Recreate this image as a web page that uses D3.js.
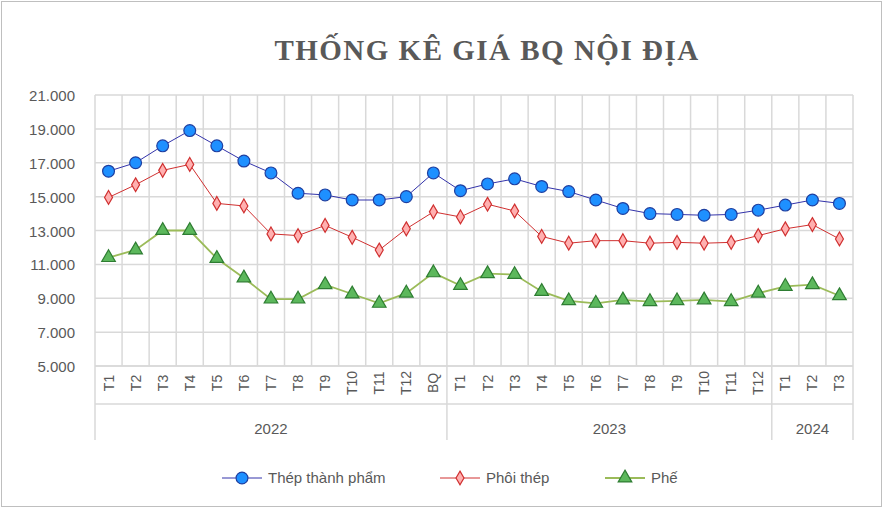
<!DOCTYPE html>
<html><head><meta charset="utf-8">
<script src="https://cdn.jsdelivr.net/npm/d3@7"></script>
<style>body{margin:0;background:#fff}</style></head>
<body><svg id="chart" width="884" height="513"></svg>
<script>
var months = ["T1","T2","T3","T4","T5","T6","T7","T8","T9","T10","T11","T12","BQ",
  "T1","T2","T3","T4","T5","T6","T7","T8","T9","T10","T11","T12","T1","T2","T3"]
var years = [["2022", 0, 13], ["2023", 13, 25], ["2024", 25, 28]]
var thep = [16.5,17.0,18.0,18.9,18.0,17.1,16.4,15.2,15.1,14.8,14.8,15.0,16.4,
  15.35,15.75,16.05,15.6,15.3,14.8,14.3,14.0,13.95,13.9,13.95,14.2,14.5,14.8,14.6]
var phoi = [14.95,15.7,16.55,16.9,14.6,14.45,12.8,12.7,13.3,12.6,11.85,13.1,14.1,
  13.8,14.55,14.15,12.65,12.25,12.4,12.4,12.25,12.3,12.25,12.3,12.7,13.1,13.35,12.5]
var phe = [11.4,11.85,13.0,13.0,11.35,10.2,8.95,8.95,9.8,9.25,8.7,9.3,10.5,
  9.75,10.45,10.4,9.4,8.85,8.7,8.9,8.8,8.85,8.9,8.8,9.3,9.7,9.8,9.15]
var yTicks = [5000,7000,9000,11000,13000,15000,17000,19000,21000]

var svg = d3.select("#chart")
svg.append("rect").attr("x",1.5).attr("y",1.5).attr("width",880).attr("height",505)
  .attr("fill","#fff").attr("stroke","#bfbfbf")

svg.append("text").attr("x",487).attr("y",60).attr("text-anchor","middle")
  .attr("font-family","Liberation Serif").attr("font-weight","bold").attr("font-size",29)
  .attr("letter-spacing",1.5).attr("fill","#595959").text("THỐNG KÊ GIÁ BQ NỘI ĐỊA")

var plotLeft = 95, plotRight = 853, plotTop = 95, plotBottom = 366
var x = d3.scaleBand().domain(d3.range(months.length)).range([plotLeft, plotRight])
var y = d3.scaleLinear().domain([5000, 21000]).range([plotBottom, plotTop])

var g = svg.append("g")
g.selectAll("line.h").data(yTicks).enter().append("line")
  .attr("x1", plotLeft).attr("x2", plotRight).attr("y1", d => y(d)).attr("y2", d => y(d))
  .attr("stroke", "#d9d9d9").attr("stroke-width", 1.5)
g.selectAll("line.v").data(d3.range(months.length + 1)).enter().append("line")
  .attr("x1", d => plotLeft + d * x.bandwidth()).attr("x2", d => plotLeft + d * x.bandwidth())
  .attr("y1", plotTop).attr("y2", plotBottom).attr("stroke", "#d9d9d9").attr("stroke-width", 1.5)

g.selectAll("text.y").data(yTicks).enter().append("text")
  .attr("x", 75).attr("y", d => y(d) + 6).attr("text-anchor", "end")
  .attr("font-family", "Liberation Sans").attr("font-size", 15).attr("fill", "#595959")
  .text(d => d3.format(",")(d).replace(",", "."))

g.selectAll("text.m").data(months).enter().append("text")
  .attr("transform", (d, i) => "translate(" + (x(i) + x.bandwidth() / 2 + 5) + ",383) rotate(-90)")
  .attr("text-anchor", "middle").attr("font-family", "Liberation Sans").attr("font-size", 14)
  .attr("fill", "#595959").text(d => d)

// category group lines
g.append("line").attr("x1", plotLeft).attr("x2", plotRight).attr("y1", plotBottom).attr("y2", plotBottom)
  .attr("stroke", "#d9d9d9").attr("stroke-width", 1.5)
g.append("line").attr("x1", plotLeft).attr("x2", plotRight).attr("y1", 404).attr("y2", 404)
  .attr("stroke", "#d9d9d9").attr("stroke-width", 1.5)
var bounds = [0, 13, 25, 28]
g.selectAll("line.yb").data(bounds).enter().append("line")
  .attr("x1", d => plotLeft + d * x.bandwidth()).attr("x2", d => plotLeft + d * x.bandwidth())
  .attr("y1", plotBottom).attr("y2", 440).attr("stroke", "#d9d9d9").attr("stroke-width", 1.5)
g.selectAll("text.yr").data(years).enter().append("text")
  .attr("x", d => plotLeft + (d[1] + d[2]) / 2 * x.bandwidth()).attr("y", 434)
  .attr("text-anchor", "middle").attr("font-family", "Liberation Sans").attr("font-size", 15)
  .attr("fill", "#595959").text(d => d[0])

var series = [
  {name: "Thép thành phẩm", values: thep, line: "#3333aa", fill: "#1e90ff", stroke: "#1f3fa0", shape: "circle"},
  {name: "Phôi thép", values: phoi, line: "#d03030", fill: "#ffb0b0", stroke: "#d03030", shape: "diamond"},
  {name: "Phế", values: phe, line: "#9bbb59", fill: "#5cb85c", stroke: "#2e7d32", shape: "triangle"}
]
var shapes = {circle: d3.symbolCircle, diamond: d3.symbolDiamond, triangle: d3.symbolTriangle}
var sizes = {circle: 110, diamond: 55, triangle: 80}
var line = d3.line().x((d, i) => x(i) + x.bandwidth() / 2).y(d => y(d * 1000))

series.forEach(function(s) {
  g.append("path").attr("d", line(s.values)).attr("fill", "none")
    .attr("stroke", s.line).attr("stroke-width", s.shape == "triangle" ? 1.8 : 1)
  g.selectAll(null).data(s.values).enter().append("path")
    .attr("d", d3.symbol().type(shapes[s.shape]).size(sizes[s.shape]))
    .attr("transform", (d, i) => "translate(" + (x(i) + x.bandwidth() / 2) + "," + y(d * 1000) + ")")
    .attr("fill", s.fill).attr("stroke", s.stroke).attr("stroke-width", 1.2)
})

var legendX = [222, 440, 605]
series.forEach(function(s, i) {
  var lg = svg.append("g").attr("transform", "translate(" + legendX[i] + ",478)")
  lg.append("line").attr("x1", 0).attr("x2", 40).attr("stroke", s.line).attr("stroke-width", s.shape == "triangle" ? 1.8 : 1)
  lg.append("path").attr("d", d3.symbol().type(shapes[s.shape]).size(sizes[s.shape]))
    .attr("transform", "translate(20,0)").attr("fill", s.fill).attr("stroke", s.stroke).attr("stroke-width", 1.2)
  lg.append("text").attr("x", 46).attr("y", 5).attr("font-family", "Liberation Sans")
    .attr("font-size", 15).attr("fill", "#595959").text(s.name)
})
</script></body></html>
